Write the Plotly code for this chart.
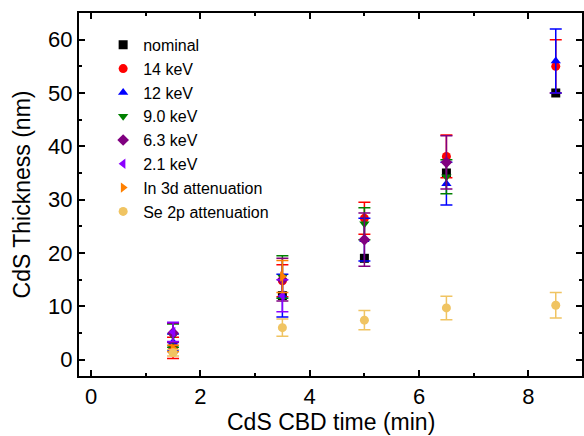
"""CdS thickness vs CBD time, with error bars."""

import plotly.graph_objects as go

# x positions (min)
x_all = [1.5, 3.5, 5.0, 6.5, 8.5]
x_in3d = [1.5, 3.5]
x_21 = [1.5, 3.5]

nominal = [2.0, 12.0, 19.0, 35.0, 50.0]

kev14 = [2.2, 14.8, 26.5, 38.1, 55.0]
kev14_err = [2.0, 3.0, 3.0, 4.0, 5.0]

kev12 = [3.3, 12.0, 22.5, 33.0, 56.0]
kev12_err = [1.5, 4.0, 4.0, 4.0, 6.0]

kev9 = [4.5, 15.5, 25.5, 34.3, None]
kev9_err = [2.2, 4.0, 3.0, 3.2, 0]

kev63 = [5.0, 15.0, 22.5, 37.0, None]
kev63_err = [1.8, 4.0, 5.0, 5.0, 0]

kev21 = [5.2, 12.0]
kev21_err = [1.8, 3.0]

in3d = [2.1, 15.6]
in3d_err = [0.6, 3.0]

se2p = [1.3, 6.0, 7.4, 9.7, 10.2]
se2p_err = [0.6, 1.6, 1.8, 2.2, 2.4]

series = [
    ("nominal", x_all, nominal, None, "#000000", "square"),
    ("14 keV", x_all, kev14, kev14_err, "#FF0000", "circle"),
    ("12 keV", x_all, kev12, kev12_err, "#0000FF", "triangle-up"),
    ("9.0 keV", x_all, kev9, kev9_err, "#008000", "triangle-down"),
    ("6.3 keV", x_all, kev63, kev63_err, "#800080", "diamond"),
    ("2.1 keV", x_21, kev21, kev21_err, "#8B00FF", "triangle-left"),
    ("In 3d attenuation", x_in3d, in3d, in3d_err, "#FF8000", "triangle-right"),
    ("Se 2p attenuation", x_all, se2p, se2p_err, "#F0C462", "circle"),
]

fig = go.Figure()
for name, xs, ys, err, color, symbol in series:
    kw = {}
    if err is not None:
        kw["error_y"] = dict(type="data", array=err, visible=True,
                             color=color, thickness=1.5, width=6)
    fig.add_trace(go.Scatter(
        x=xs, y=ys, mode="markers", name=name,
        marker=dict(color=color, symbol=symbol, size=9,
                    line=dict(width=0)),
        **kw,
    ))

axis_common = dict(
    showline=True, linecolor="black", linewidth=2, mirror="ticks",
    ticks="inside", ticklen=6, tickwidth=1.5, tickcolor="black",
    showgrid=False, zeroline=False,
    tickfont=dict(size=22, color="black"),
)

fig.update_xaxes(
    range=[-0.22, 8.98], tick0=0, dtick=2,
    minor=dict(dtick=1, ticks="inside", ticklen=3, tickcolor="black"),
    **axis_common,
)
fig.update_yaxes(
    range=[-3.07, 65], tick0=0, dtick=10,
    minor=dict(dtick=5, ticks="inside", ticklen=3, tickcolor="black"),
    title=dict(text="CdS Thickness (nm)", font=dict(size=23, color="black"),
               standoff=11),
    **axis_common,
)

# x title as an annotation so it sits just above the bottom edge
fig.add_annotation(
    text="CdS CBD time (min)", xref="paper", yref="paper",
    x=0.5, y=-0.127, xanchor="center", yanchor="middle",
    showarrow=False, font=dict(size=23, color="black"), borderpad=0,
)

fig.update_layout(
    width=584, height=436,
    margin=dict(l=79, r=0, t=13, b=60),
    plot_bgcolor="white", paper_bgcolor="white",
    font=dict(family="Liberation Sans, Arial, sans-serif", color="black"),
    legend=dict(x=0.048, y=0.959, xanchor="left", yanchor="top",
                bgcolor="rgba(0,0,0,0)", font=dict(size=16),
                itemwidth=30, tracegroupgap=0),
)

# drop the default page margin so the figure sits at the window's corner
fig.write_html(
    "out.html",
    config={"displayModeBar": False},
    post_script="document.body.style.margin='0';document.body.style.overflow='hidden';",
)
